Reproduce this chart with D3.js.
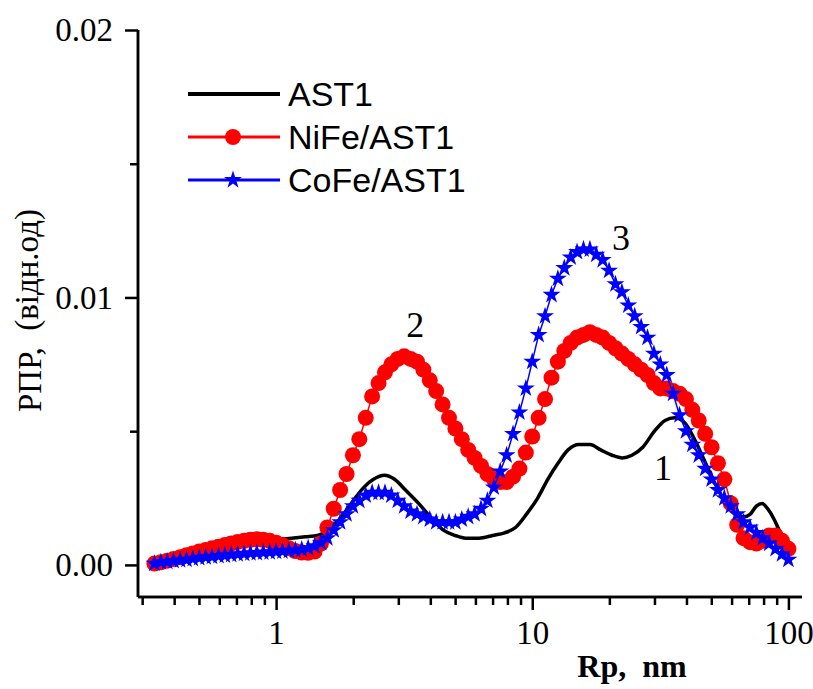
<!DOCTYPE html>
<html><head><meta charset="utf-8">
<script src="https://cdn.jsdelivr.net/npm/d3@7"></script>
<style>body{margin:0;background:#fff} svg{display:block}</style>
</head><body>
<svg id="chart" width="813" height="689"></svg>
<script>
// Pore radius grid (nm) of the marker series
const rp = [0.335,0.355,0.376,0.398,0.422,0.447,0.473,0.501,0.531,0.562,0.596,0.631,0.668,0.708,0.750,0.794,0.841,0.891,0.944,
  1.000,1.059,1.122,1.189,1.259,1.334,1.413,1.496,1.585,1.679,1.778,1.884,1.995,2.113,2.239,2.371,2.512,2.661,2.818,2.985,
  3.162,3.350,3.548,3.758,3.981,4.217,4.467,4.732,5.012,5.309,5.623,5.957,6.310,6.683,7.079,7.499,7.943,8.414,8.913,9.441,
  10.00,10.59,11.22,11.89,12.59,13.34,14.13,14.96,15.85,16.79,17.78,18.84,19.95,21.13,22.39,23.71,25.12,26.61,28.18,29.85,
  31.62,33.50,35.48,37.58,39.81,42.17,44.67,47.32,50.12,53.09,56.23,59.57,63.10,66.83,70.79,74.99,79.43,84.14,89.13,94.41,100.0];
// NiFe/AST1 (red circles)
const niFe = [0.00005,0.0001,0.00016,0.00022,0.00029,0.00036,0.00043,0.0005,0.00056,0.00062,0.00068,0.00074,0.0008,0.00086,0.0009,0.00094,0.00096,0.00094,0.0009,
  0.00083,0.00074,0.00062,0.00052,0.00046,0.00045,0.0005,0.0008,0.0014,0.0021,0.0028,0.0034,0.0041,0.0047,0.0055,0.0063,0.0068,0.0072,0.0075,0.0077,
  0.0078,0.0077,0.0076,0.0073,0.0069,0.0065,0.006,0.0055,0.0051,0.0047,0.0043,0.004,0.0037,0.0034,0.0032,0.0031,0.0031,0.0033,0.0036,0.0042,
  0.0048,0.0055,0.0062,0.007,0.0076,0.008,0.0083,0.0085,0.0086,0.0087,0.0086,0.0085,0.0083,0.0081,0.0079,0.0077,0.0075,0.0073,0.0071,0.0068,
  0.0066,0.0066,0.0065,0.0064,0.0062,0.0058,0.0054,0.0049,0.0044,0.0038,0.0032,0.0023,0.0015,0.001,0.00085,0.0008,0.0009,0.0011,0.0011,0.0009,0.0006];
// CoFe/AST1 (blue stars)
const coFe = [0.00005,0.0001,0.00012,0.00015,0.00018,0.0002,0.00023,0.00026,0.00029,0.00031,0.00034,0.00036,0.00038,0.0004,0.00042,0.00044,0.00045,0.00047,0.00048,
  0.0005,0.00051,0.00053,0.00055,0.00058,0.00063,0.0007,0.00082,0.001,0.0013,0.0016,0.0019,0.0022,0.0024,0.0026,0.0027,0.0027,0.0027,0.0026,0.0024,
  0.0022,0.002,0.0019,0.0018,0.0017,0.0016,0.0016,0.0016,0.0016,0.0017,0.0018,0.0019,0.0021,0.0024,0.0029,0.0035,0.0041,0.0049,0.0057,0.0066,
  0.0076,0.0086,0.0093,0.0101,0.0107,0.0111,0.0115,0.0117,0.0118,0.0118,0.0116,0.0114,0.011,0.0105,0.0102,0.0097,0.0093,0.0089,0.0085,0.0079,
  0.0075,0.0071,0.0064,0.0056,0.005,0.0045,0.0041,0.0036,0.0032,0.0028,0.0025,0.0022,0.0019,0.0016,0.0014,0.0012,0.001,0.0008,0.0006,0.0004,0.0002];
// AST1 (black line)
const ast1Rp = [0.335,0.4,0.5,0.6,0.7,0.8,0.9,1.0,1.15,1.3,1.45,1.6,1.8,2.0,2.2,2.4,2.65,2.9,3.2,3.6,4.0,4.5,5.0,5.5,6.2,7.0,7.8,8.6,9.5,
  10.5,11.5,12.6,13.8,15.2,16.8,18.5,20.5,22.5,24.5,27,30,33,36,39.5,43,47,52,57,62,67,71,75,79,83,88,92,97];
const ast1 = [0.00005,0.0002,0.0004,0.00055,0.00068,0.0008,0.00088,0.00095,0.001,0.00105,0.0011,0.0013,0.0018,0.0024,0.0029,0.0032,0.00335,0.0032,0.0028,0.0023,0.0018,0.0013,0.0011,0.001,0.001,0.0011,0.0012,0.0014,0.0019,
  0.0025,0.0032,0.0038,0.0043,0.0045,0.0045,0.0043,0.0041,0.004,0.0041,0.0044,0.005,0.0054,0.0055,0.0053,0.0047,0.0039,0.003,0.0023,0.0019,0.0018,0.0019,0.0022,0.0023,0.0021,0.0017,0.0013,0.0009];

const xMajorTicks = [1, 10, 100];
const xTickLabels = ["1", "10", "100"];
const xMinorTicks = [0.3,0.4,0.5,0.6,0.7,0.8,0.9,2,3,4,5,6,7,8,9,20,30,40,50,60,70,80,90];
const yMajorTicks = [0, 0.01, 0.02];
const yTickLabels = ["0.00", "0.01", "0.02"];
const yMinorTicks = [0.005, 0.015];
const seriesNames = ["AST1", "NiFe/AST1", "CoFe/AST1"];
const seriesColors = ["#000000", "#ff0000", "#0000ff"];
const peakLabels = ["1", "2", "3"];
const peakAt = [[32.4, 0.00363], [3.49, 0.0090], [22.2, 0.01226]];
const xTitle = "Rp,  nm";
const yTitleMain = "РПР,  ";
const yTitleUnit = "(відн.од)";

const svg = d3.select("#chart");
const x = d3.scaleLog().domain([0.289, 113]).range([138, 802]);
const y = d3.scaleLinear().domain([-0.0012, 0.02]).range([597, 30]);
const serif = "'Liberation Serif','Times New Roman',serif";
const sans = "'Liberation Sans',Arial,sans-serif";

// axes
const xAxisG = svg.append("g").attr("transform", `translate(0,${y.range()[0]})`);
xAxisG.call(d3.axisBottom(x).tickValues(xMinorTicks).tickSize(8).tickFormat(""));
xAxisG.append("g").call(d3.axisBottom(x).tickValues(xMajorTicks).tickSize(13).tickPadding(11)
  .tickFormat((d, i) => xTickLabels[i]));
const yAxisG = svg.append("g").attr("transform", `translate(${x.range()[0]},0)`);
yAxisG.call(d3.axisLeft(y).tickValues(yMinorTicks).tickSize(8).tickFormat(""));
yAxisG.append("g").call(d3.axisLeft(y).tickValues(yMajorTicks).tickSize(13).tickPadding(12)
  .tickFormat((d, i) => yTickLabels[i]));
svg.selectAll(".domain").attr("stroke", "#000").attr("stroke-width", 2.5);
svg.selectAll(".tick line").attr("stroke", "#000").attr("stroke-width", 2.5);
svg.selectAll(".tick text").attr("font-family", serif).attr("font-size", 33).attr("fill", "#000");
xAxisG.selectAll(".domain").attr("d", `M${x.range()[0]},0H${x.range()[1]}`);
yAxisG.selectAll(".domain").attr("d", `M0,${y.range()[0]}V${y.range()[1]}`);

// titles
svg.append("text").attr("x", 632).attr("y", 677).attr("text-anchor", "middle")
  .attr("font-family", serif).attr("font-weight", "bold").attr("font-size", 32)
  .style("white-space", "pre").text(xTitle);
const yt = svg.append("text").attr("transform", "translate(41,412) rotate(-90)")
  .attr("font-family", serif).attr("font-size", 33).style("white-space", "pre");
yt.append("tspan").text(yTitleMain);
yt.append("tspan").attr("dy", -3).text(yTitleUnit);

// series
const pts = (xs, ys) => xs.map((v, i) => [v, ys[i]]);
const line = d3.line().x(d => x(d[0])).y(d => y(d[1]));
svg.append("path").datum(pts(ast1Rp, ast1)).attr("fill", "none").attr("stroke", seriesColors[0])
  .attr("stroke-width", 3.5).attr("d", line.curve(d3.curveMonotoneX));
const lineL = d3.line().x(d => x(d[0])).y(d => y(d[1]));
const redPts = pts(rp, niFe);
svg.append("path").datum(redPts).attr("fill", "none").attr("stroke", seriesColors[1]).attr("stroke-width", 1.5).attr("d", lineL);
svg.append("g").selectAll("circle").data(redPts).join("circle")
  .attr("cx", d => x(d[0])).attr("cy", d => y(d[1])).attr("r", 8).attr("fill", seriesColors[1]);
const bluePts = pts(rp, coFe);
svg.append("path").datum(bluePts).attr("fill", "none").attr("stroke", seriesColors[2]).attr("stroke-width", 1.5).attr("d", lineL);
const star = d3.symbol().type(d3.symbolStar).size(100);
svg.append("g").selectAll("path").data(bluePts).join("path")
  .attr("transform", d => `translate(${x(d[0])},${y(d[1])})`).attr("d", star()).attr("fill", seriesColors[2]);

// peak labels
svg.append("g").selectAll("text").data(peakLabels).join("text")
  .attr("x", (d, i) => x(peakAt[i][0])).attr("y", (d, i) => y(peakAt[i][1]))
  .attr("dy", "0.35em").attr("text-anchor", "middle")
  .attr("font-family", serif).attr("font-size", 36).text(d => d);

// legend
const lg = svg.append("g");
seriesNames.forEach((name, i) => {
  const ly = 94 + i * 43;
  lg.append("line").attr("x1", 188).attr("x2", 280).attr("y1", ly).attr("y2", ly)
    .attr("stroke", seriesColors[i]).attr("stroke-width", i === 0 ? 4 : 3);
  if (i === 1) lg.append("circle").attr("cx", 233).attr("cy", ly).attr("r", 8).attr("fill", seriesColors[i]);
  if (i === 2) lg.append("path").attr("transform", `translate(233,${ly})`).attr("d", star()).attr("fill", seriesColors[i]);
  lg.append("text").attr("x", 288).attr("y", ly).attr("dy", "0.35em")
    .attr("font-family", sans).attr("font-size", 34).text(name);
});
</script>
</body></html>
